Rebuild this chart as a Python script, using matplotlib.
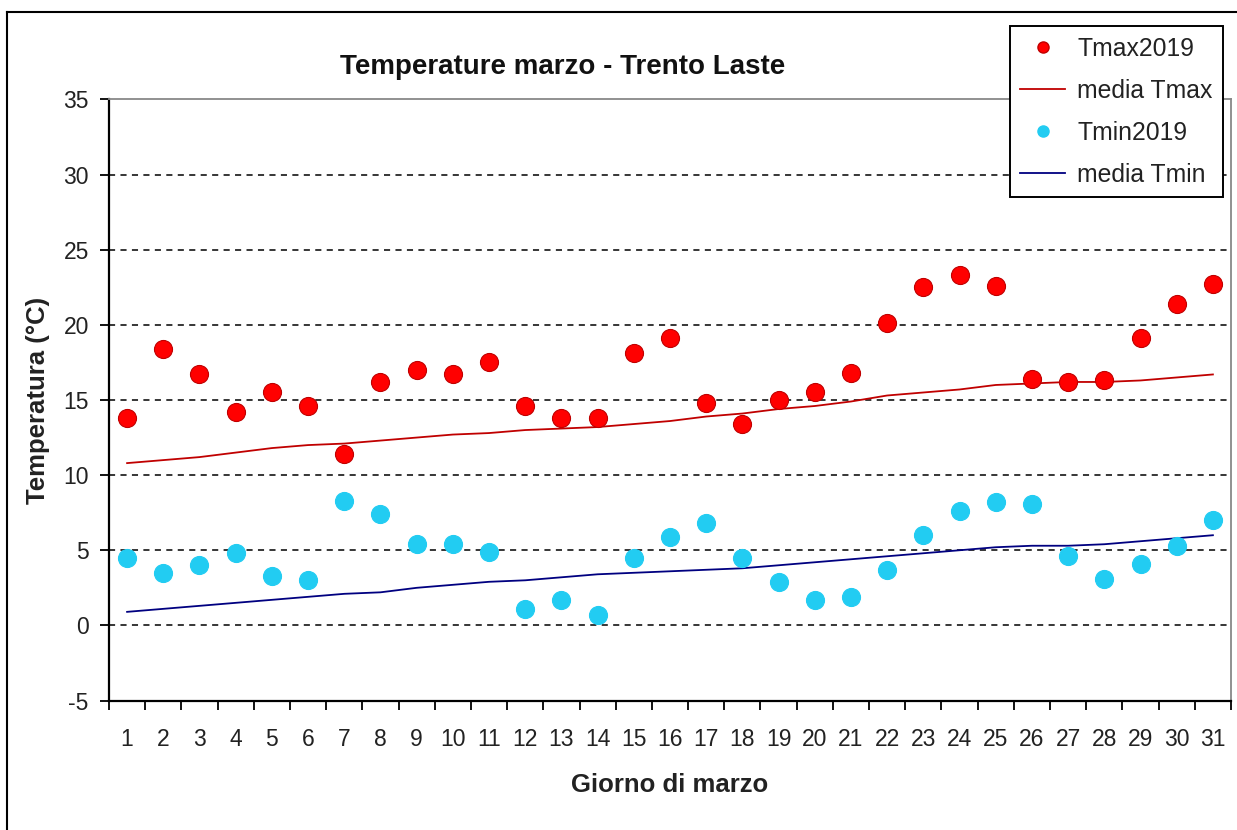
import matplotlib
matplotlib.use("Agg")
import matplotlib.pyplot as plt
from matplotlib.lines import Line2D

plt.rcParams['font.family'] = ['Liberation Sans', 'DejaVu Sans']

days = list(range(1, 32))
tmax2019 = [13.8, 18.4, 16.7, 14.2, 15.5, 14.6, 11.4, 16.2, 17.0, 16.7, 17.5,
            14.6, 13.8, 13.8, 18.1, 19.1, 14.8, 13.4, 15.0, 15.5, 16.8,
            20.1, 22.5, 23.3, 22.6, 16.4, 16.2, 16.3, 19.1, 21.4, 22.7]
tmin2019 = [4.5, 3.5, 4.0, 4.8, 3.3, 3.0, 8.3, 7.4, 5.4, 5.4, 4.9,
            1.1, 1.7, 0.7, 4.5, 5.9, 6.8, 4.5, 2.9, 1.7, 1.9,
            3.7, 6.0, 7.6, 8.2, 8.1, 4.6, 3.1, 4.1, 5.3, 7.0]
media_tmax = [10.8, 11.0, 11.2, 11.5, 11.8, 12.0, 12.1, 12.3, 12.5, 12.7, 12.8,
              13.0, 13.1, 13.2, 13.4, 13.6, 13.9, 14.1, 14.4, 14.6, 14.9,
              15.3, 15.5, 15.7, 16.0, 16.1, 16.2, 16.2, 16.3, 16.5, 16.7]
media_tmin = [0.9, 1.1, 1.3, 1.5, 1.7, 1.9, 2.1, 2.2, 2.5, 2.7, 2.9,
              3.0, 3.2, 3.4, 3.5, 3.6, 3.7, 3.8, 4.0, 4.2, 4.4,
              4.6, 4.8, 5.0, 5.2, 5.3, 5.3, 5.4, 5.6, 5.8, 6.0]
yticks = [-5, 0, 5, 10, 15, 20, 25, 30, 35]

title = "Temperature marzo - Trento Laste"
xlabel = "Giorno di marzo"
ylabel = "Temperatura (°C)"

W, H = 1237, 830
fig = plt.figure(figsize=(W / 100, H / 100), dpi=100)
fig.patch.set_facecolor('white')

# outer chart border (only left and top visible in the reference crop)
fig.add_artist(Line2D([7 / W, 7 / W], [0, 1 - 12 / H], transform=fig.transFigure,
                      color='black', linewidth=1.5))
fig.add_artist(Line2D([7 / W, 1], [1 - 12 / H, 1 - 12 / H], transform=fig.transFigure,
                      color='black', linewidth=1.5))

left, right, top, bottom = 109, 1231, 99.5, 700.5
ax = fig.add_axes([left / W, (H - bottom) / H, (right - left) / W, (bottom - top) / H])

x = list(range(len(days)))
ax.set_xlim(-0.5, len(days) - 0.5)
ax.set_ylim(-5, 35)

for yv in yticks[1:-1]:
    ax.axhline(yv, color='black', linestyle=(0, (4, 3.5)), linewidth=1.1, zorder=1)

ax.plot(x, media_tmax, color='#C00000', linewidth=1.3, zorder=2)
ax.plot(x, media_tmin, color='#000080', linewidth=1.3, zorder=2)
ax.plot(x, tmax2019, linestyle='none', marker='o', markersize=13,
        markerfacecolor='#FF0000', markeredgecolor='#C00000', markeredgewidth=0.8, zorder=3)
ax.plot(x, tmin2019, linestyle='none', marker='o', markersize=13,
        markerfacecolor='#22CCF2', markeredgecolor='#22CCF2', markeredgewidth=0.8, zorder=3)

ax.set_yticks(yticks)
ax.set_yticklabels([str(v) for v in yticks])
ax.set_xticks(x)
ax.set_xticklabels([str(d) for d in days])
ax.set_xticks([i - 0.5 for i in range(len(days) + 1)], minor=True)
ax.tick_params(axis='x', which='major', length=0, pad=20, labelsize=16.5)
ax.tick_params(axis='x', which='minor', length=6.5, width=1.3, direction='out', color='black')
ax.tick_params(axis='y', which='major', length=6.5, width=1.3, direction='out',
               pad=8, labelsize=16.5)
ax.tick_params(axis='both', labelcolor='#222222')

for s in ['left', 'bottom']:
    ax.spines[s].set_color('black')
    ax.spines[s].set_linewidth(1.6)
for s in ['top', 'right']:
    ax.spines[s].set_color('#888888')
    ax.spines[s].set_linewidth(1.3)

fig.text(563 / W, 1 - 67 / H, title, ha='center', va='center',
         fontsize=20, fontweight='bold', color='#111111')
fig.text(670 / W, 1 - 785 / H, xlabel, ha='center', va='center',
         fontsize=18.5, fontweight='bold', color='#222222')
fig.text(38 / W, 1 - 400 / H, ylabel, ha='center', va='center', rotation=90,
         fontsize=18.5, fontweight='bold', color='#222222')

handles = [
    Line2D([], [], linestyle='none', marker='o', markersize=8,
           markerfacecolor='#FF0000', markeredgecolor='#C00000'),
    Line2D([], [], color='#C00000', linewidth=1.3),
    Line2D([], [], linestyle='none', marker='o', markersize=8,
           markerfacecolor='#22CCF2', markeredgecolor='#22CCF2'),
    Line2D([], [], color='#000080', linewidth=1.3),
]
labels = ['Tmax2019', 'media Tmax', 'Tmin2019', 'media Tmin']
leg = fig.legend(handles, labels, loc='upper right',
                 bbox_to_anchor=(1223 / W, 1 - 26.5 / H),
                 frameon=True, fancybox=False, fontsize=17.8, framealpha=1,
                 handlelength=1.8, handletextpad=0.5, labelspacing=0.73,
                 borderpad=0.42, borderaxespad=0, edgecolor='black',
                 labelcolor='#222222')
leg.get_frame().set_linewidth(1.4)

fig.savefig('out.png', dpi=100, facecolor='white')
